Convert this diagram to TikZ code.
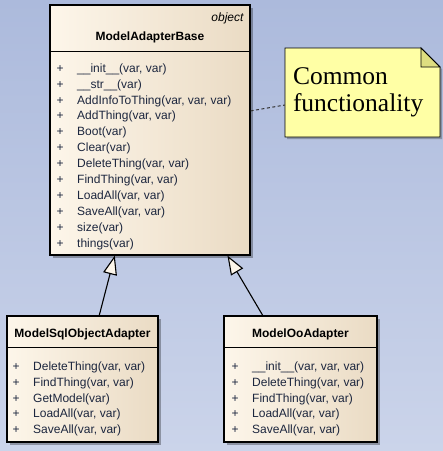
\documentclass[tikz,border=0pt]{standalone}
\usepackage{fontspec}
\setmainfont{Liberation Sans}
\newfontfamily\notefont{Liberation Serif}
\usetikzlibrary{arrows.meta,calc,shadows}

\definecolor{bgtop}{RGB}{172,186,220}
\definecolor{bgbot}{RGB}{203,212,234}
\definecolor{clsleft}{RGB}{253,246,234}
\definecolor{clsright}{RGB}{234,219,196}
\definecolor{membertext}{RGB}{28,38,62}
\definecolor{noteyellow}{RGB}{255,255,165}
\definecolor{notefold}{RGB}{222,222,128}

\tikzset{
  classbox/.style={draw=black, line width=1.2pt, left color=clsleft, right color=clsright, inner sep=0pt,
    drop shadow={shadow xshift=3pt, shadow yshift=-3pt, fill=black, opacity=0.3}},
  sepline/.style={line width=1.2pt},
  classname/.style={anchor=base, font=\fontsize{12}{14}\selectfont\bfseries},
  stereo/.style={anchor=base east, font=\fontsize{12}{14}\selectfont\itshape},
  members/.style={anchor=north west, inner sep=0pt, font=\fontsize{12}{15.9}\selectfont, text=membertext},
  inherit/.style={line width=1.1pt, -{Triangle[length=19pt, width=14pt, fill=clsleft]}},
  notebox/.style={draw=black, line width=0.9pt, fill=noteyellow,
    drop shadow={shadow xshift=2pt, shadow yshift=-2pt, fill=black, opacity=0.25}},
  notecorner/.style={draw=black, line width=0.9pt, fill=notefold},
  notetext/.style={font=\notefont\fontsize{25.5}{27}\selectfont, align=left, text width=139pt,
    minimum width=155pt, minimum height=89pt, inner sep=0pt},
  notelink/.style={line width=1pt, black!80, dash pattern=on 3pt off 2.5pt}
}

\begin{document}
\begin{tikzpicture}[x=1pt, y=-1pt]
% Background
\shade[top color=bgtop, bottom color=bgbot] (0,0) rectangle (443,451);

% ModelAdapterBase
\node[classbox, minimum width=200pt, minimum height=250pt] (base) at (150,130) {};
\draw[sepline] ($(base.north west)+(0,47)$) -- ($(base.north east)+(0,47)$);
\node[stereo] (basestereo) at (247,21) {object};
\node[classname] (basename) at (150,40) {ModelAdapterBase};
\node[members] (basemembers) at (56.5,60.9) {\begin{tabular}{@{}l@{\hspace{13.5pt}}l@{}}
+ & \_\_init\_\_(var, var)\\
+ & \_\_str\_\_(var)\\
+ & AddInfoToThing(var, var, var)\\
+ & AddThing(var, var)\\
+ & Boot(var)\\
+ & Clear(var)\\
+ & DeleteThing(var, var)\\
+ & FindThing(var, var)\\
+ & LoadAll(var, var)\\
+ & SaveAll(var, var)\\
+ & size(var)\\
+ & things(var)
\end{tabular}};

% ModelSqlObjectAdapter
\node[classbox, minimum width=151pt, minimum height=126pt] (sql) at (82.5,379) {};
\draw[sepline] ($(sql.north west)+(0,32)$) -- ($(sql.north east)+(0,32)$);
\node[classname] (sqlname) at (82.5,337) {ModelSqlObjectAdapter};
\node[members] (sqlmembers) at (12.5,358.9) {\begin{tabular}{@{}l@{\hspace{13.5pt}}l@{}}
+ & DeleteThing(var, var)\\
+ & FindThing(var, var)\\
+ & GetModel(var)\\
+ & LoadAll(var, var)\\
+ & SaveAll(var, var)
\end{tabular}};

% ModelOoAdapter
\node[classbox, minimum width=153pt, minimum height=126pt] (oo) at (300.5,379) {};
\draw[sepline] ($(oo.north west)+(0,32)$) -- ($(oo.north east)+(0,32)$);
\node[classname] (ooname) at (300.5,337) {ModelOoAdapter};
\node[members] (oomembers) at (231.5,358.9) {\begin{tabular}{@{}l@{\hspace{13.5pt}}l@{}}
+ & \_\_init\_\_(var, var, var)\\
+ & DeleteThing(var, var)\\
+ & FindThing(var, var)\\
+ & LoadAll(var, var)\\
+ & SaveAll(var, var)
\end{tabular}};

% Generalisations
\draw[inherit] ($(sql.north west)!0.61!(sql.north east)$) -- ($(base.south west)!0.325!(base.south east)$);
\draw[inherit] ($(oo.north west)!0.255!(oo.north east)$) -- ($(base.south west)!0.885!(base.south east)$);

% Note
\coordinate (notenw) at (285,48);
\coordinate (notese) at (440,137);
\draw[notebox] (notenw) -- (421,48) -- (440,67) -- (notese) -- (285,137) -- cycle;
\draw[notecorner] (421,48) -- (421,67) -- (440,67) -- cycle;
\node[notetext] (note) at ($(notenw)!0.5!(notese)$) {Common\\functionality};
\draw[notelink] ($(base.north east)!0.424!(base.south east)$) -- ($(note.north west)!0.64!(note.south west)$);
\end{tikzpicture}
\end{document}
